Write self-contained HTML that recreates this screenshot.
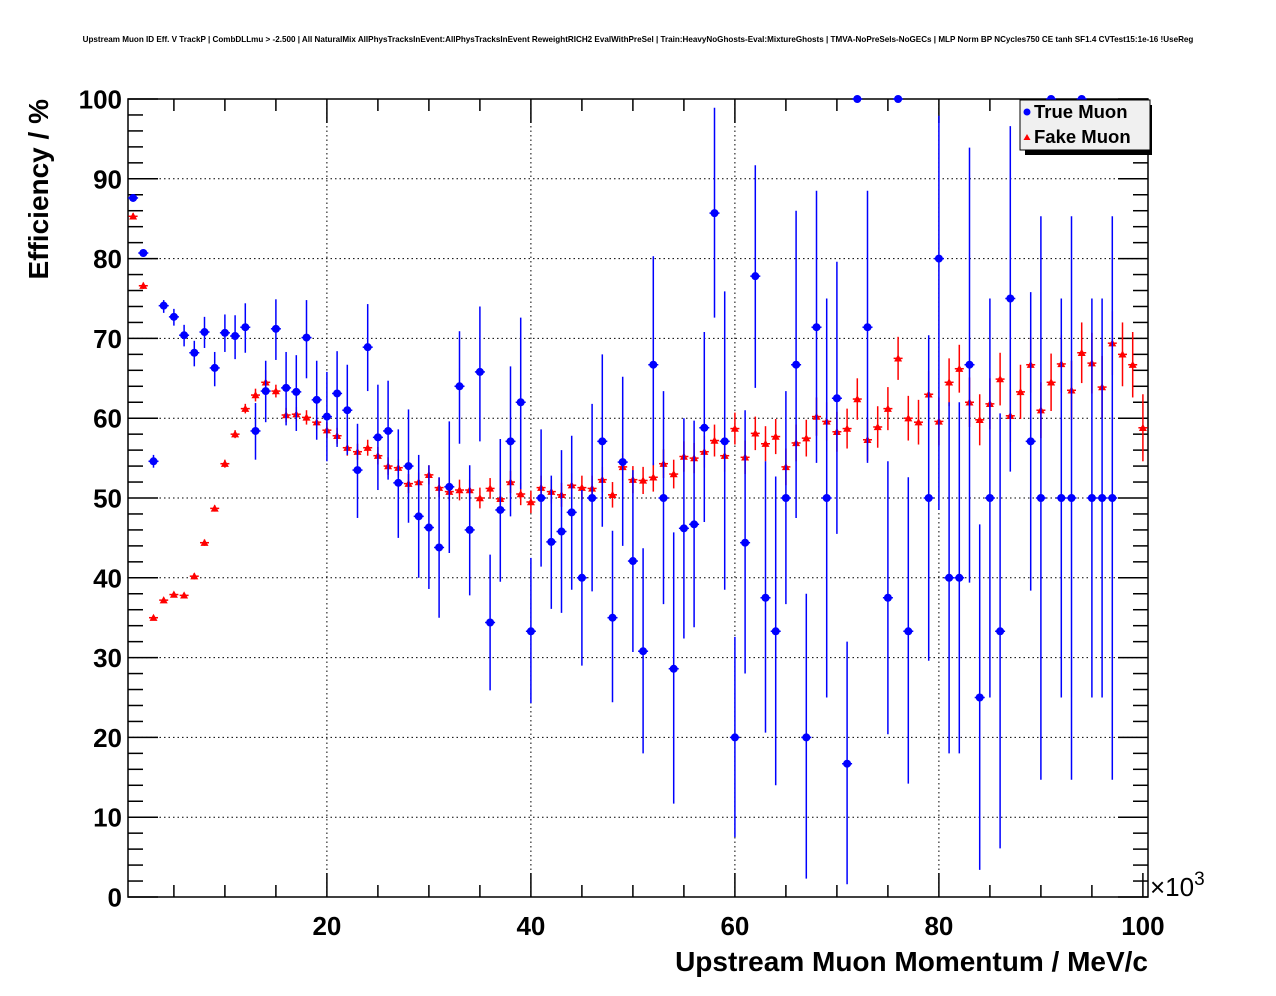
<!DOCTYPE html>
<html><head><meta charset="utf-8">
<style>
html,body{margin:0;padding:0;background:#fff;}
svg{display:block;font-family:"Liberation Sans",sans-serif;}
</style></head>
<body>
<svg id="chart" width="1276" height="996" viewBox="0 0 1276 996">
<text x="638" y="42" text-anchor="middle" font-size="8.1" font-weight="bold">Upstream Muon ID Eff. V TrackP | CombDLLmu &gt; -2.500 | All NaturalMix AllPhysTracksInEvent:AllPhysTracksInEvent ReweightRICH2 EvalWithPreSel | Train:HeavyNoGhosts-Eval:MixtureGhosts | TMVA-NoPreSels-NoGECs | MLP Norm BP NCycles750 CE tanh SF1.4 CVTest15:1e-16 !UseReg</text>
<g id="grid"></g>
<g id="axes"></g>
<g id="plot"></g>
<text x="0" y="0" transform="translate(48,99) rotate(-90)" text-anchor="end" font-size="28" font-weight="bold">Efficiency / %</text>
<text x="1148" y="971" text-anchor="end" font-size="28" font-weight="bold">Upstream Muon Momentum / MeV/c</text>
<text x="1150" y="896" font-size="26">×10<tspan dy="-11" font-size="19">3</tspan></text>
<g>
<rect x="1025" y="105" width="127" height="50" fill="#000"/>
<rect x="1020" y="100" width="130" height="50" fill="#f0f0f0" stroke="#000" stroke-width="1"/>
<circle cx="1027" cy="112" r="3.5" fill="#0000ff"/>
<text x="1034" y="118" font-size="18.5" font-weight="bold">True Muon</text>
<path d="M1023.5,140 L1027,134 L1030.5,140 Z" fill="#ff0000"/>
<text x="1034" y="143" font-size="18.5" font-weight="bold">Fake Muon</text>
</g>
</svg>
<script>
const xTicks = [20, 40, 60, 80, 100];
const yTicks = [0, 10, 20, 30, 40, 50, 60, 70, 80, 90, 100];
const binCenters = Array.from({length:100}, (_, i) => i + 1);
const fakeEff = [85.3,76.6,35,37.2,37.9,37.8,40.2,44.4,48.7,54.3,58,61.2,62.9,64.5,63.4,60.4,60.5,60.1,59.5,58.5,57.8,56.3,55.8,56.3,55.3,54,53.8,51.8,52,52.9,51.3,50.8,51,51,50,51.2,49.9,52,50.5,49.5,51.3,50.8,50.4,51.6,51.3,51.2,52.3,50.4,53.9,52.3,52.2,52.6,54.3,53,55.2,55,55.8,57.2,55.3,58.7,55.1,58.1,56.8,57.7,53.9,56.9,57.5,60.2,59.6,58.3,58.7,62.4,57.3,58.9,61.2,67.5,60,59.5,63,59.6,64.5,66.2,62,59.8,61.8,64.9,60.3,63.3,66.7,61,64.5,66.8,63.5,68.2,66.9,63.9,69.4,68,66.7,58.8];
const fakeErr = [0.4,0.4,0.3,0.3,0.3,0.3,0.4,0.4,0.4,0.5,0.5,0.6,0.8,1.5,0.8,0.9,0.9,0.9,0.9,1,1,1,1,1,1.1,1.1,1.1,1.2,1.2,1.2,1.2,1.2,1.3,1.3,1.3,1.3,1.4,1.4,1.4,1.4,1.5,1.5,1.5,1.5,1.5,1.6,1.6,1.6,1.7,1.7,1.7,1.8,1.8,1.8,1.9,1.9,2,2,2,2,2.1,2.1,2.2,2.2,2.3,2.3,2.3,2.4,2.4,2.5,2.5,2.6,2.6,2.6,2.7,2.7,2.8,2.8,2.9,3,3,3,3.1,3.2,3.2,3.3,3.3,3.4,3.5,3.5,3.6,3.6,3.7,3.8,3.8,3.9,4,4,4.1,4.2];
const trueEff = [87.6,80.7,54.6,74.1,72.7,70.4,68.2,70.8,66.3,70.7,70.3,71.4,58.4,63.4,71.2,63.8,63.3,70.1,62.3,60.2,63.1,61,53.5,68.9,57.6,58.4,51.9,54,47.7,46.3,43.8,51.4,64,46,65.8,34.4,48.5,57.1,62,33.3,50,44.5,45.8,48.2,40,50,57.1,35,54.5,42.1,30.8,66.7,50,28.6,46.2,46.7,58.8,85.7,57.1,20,44.4,77.8,37.5,33.3,50,66.7,20,71.4,50,62.5,16.7,100,71.4,null,37.5,100,33.3,null,50,80,40,40,66.7,25,50,33.3,75,null,57.1,50,100,50,50,100,50,50,50,null,null,null];
const trueUp = [87.9,81,55.4,74.8,73.7,71.7,69.7,72.7,68.3,73,72.9,74.4,61.9,67.2,74.9,68.3,67.9,74.8,67.2,65.8,68.4,66.7,59.3,74.3,64.2,64.7,58.6,61.1,55.4,54.1,52.6,59.6,70.9,54.1,74,42.9,57.4,66.5,72.6,42.5,58.6,52.8,56,57.8,51,61.8,68,45.9,65.2,53.5,43.7,80.3,63.4,45.7,60,59.7,70.8,98.9,75.9,32.6,61,91.7,54.6,52.7,63.4,86,38,88.5,75,79.6,32,100,88.5,null,54.6,100,52.6,null,70.4,97.9,62,62,93.9,46.7,75,60.6,96.6,null,75.8,85.3,100,75,85.3,100,75,75,85.3,null,null,null];
const trueDown = [87.3,80.4,53.8,73.2,71.6,69,66.5,68.8,64,68.3,67.4,68.2,54.8,59.5,67.3,59.1,58.4,65,57.3,54.6,56.4,55.4,47.5,63.4,51,52.3,45,46.9,40,38.6,35,43.1,56.8,37.8,57.1,25.9,39.5,47.7,51.1,24.3,41.4,36.1,35.6,38.5,29,38.3,46.4,24.4,44,30.7,18,54.1,36.7,11.7,32.4,33.8,47,72.6,38.5,7.5,28,63.8,20.6,14,36.7,47.5,2.3,54.4,25,45.5,1.6,100,54.4,null,20.4,100,14.2,null,29.6,48.5,18,18,39.4,3.4,25,6.1,53.3,null,38.4,14.7,100,25,14.7,100,25,25,14.7,null,null,null];

const NS = "http://www.w3.org/2000/svg";
const X0 = 128, X1 = 1148, Y0 = 897, Y1 = 99;
const xMin = 0.5, xMax = 100.5, yMin = 0, yMax = 100;
function sx(v){ return X0 + (v - xMin) / (xMax - xMin) * (X1 - X0); }
function sy(v){ return Y0 - (v - yMin) / (yMax - yMin) * (Y0 - Y1); }
function mk(tag, attrs, parent){
  const e = document.createElementNS(NS, tag);
  for (const k in attrs) e.setAttribute(k, attrs[k]);
  parent.appendChild(e);
  return e;
}
const grid = document.getElementById('grid');
const axes = document.getElementById('axes');
const plot = document.getElementById('plot');

xTicks.forEach(t => {
  if (t >= 100) return;
  const l = mk('line', {x1:sx(t), x2:sx(t), y1:Y0, y2:Y1, stroke:'#000', 'stroke-width':1, 'stroke-dasharray':'1.5,3'}, grid);
  
  
});
yTicks.forEach(t => {
  if (t <= 0 || t >= 100) return;
  const l = mk('line', {x1:X0, x2:X1, y1:sy(t), y2:sy(t), stroke:'#000', 'stroke-width':1, 'stroke-dasharray':'1.5,3'}, grid);
  
  
});

const fr = mk('rect', {x:X0, y:Y1, width:X1-X0, height:Y0-Y1, fill:'none', stroke:'#000', 'stroke-width':1.5}, axes);



for (let v = 5; v <= 100; v += 5) {
  const major = v % 20 === 0;
  const len = major ? 24 : 12;
  const x = sx(v);
  const a = mk('line', {x1:x, x2:x, y1:Y0, y2:Y0-len, stroke:'#000', 'stroke-width':1.5}, axes);
  
  
  const b = mk('line', {x1:x, x2:x, y1:Y1, y2:Y1+len, stroke:'#000', 'stroke-width':1.5}, axes);
  
  
}
xTicks.forEach(t => {
  const tx = mk('text', {x:sx(t), y:935, 'text-anchor':'middle', 'font-size':26, 'font-weight':'bold'}, axes);
  tx.textContent = t;
  
  
});
for (let v = 0; v <= 100; v += 2) {
  const major = v % 10 === 0;
  const len = major ? 30 : 15;
  const y = sy(v);
  const a = mk('line', {x1:X0, x2:X0+len, y1:y, y2:y, stroke:'#000', 'stroke-width':1.5}, axes);
  
  
  const b = mk('line', {x1:X1, x2:X1-len, y1:y, y2:y, stroke:'#000', 'stroke-width':1.5}, axes);
  
  
}
yTicks.forEach(t => {
  const tx = mk('text', {x:122, y:sy(t)+9.5, 'text-anchor':'end', 'font-size':26, 'font-weight':'bold'}, axes);
  tx.textContent = t;
  
  
});

binCenters.forEach((c, i) => {
  const v = fakeEff[i];
  if (v == null) return;
  const x = sx(c), y = sy(v), e = fakeErr[i];
  const g = mk('g', {}, plot);
  
  
  mk('line', {x1:x, x2:x, y1:sy(v+e), y2:sy(v-e), stroke:'#ff0000', 'stroke-width':1.5}, g);
  mk('line', {x1:x-4.5, x2:x+4.5, y1:y, y2:y, stroke:'#ff0000', 'stroke-width':1.5}, g);
  mk('path', {d:`M${x-4},${y+3.2} L${x},${y-4} L${x+4},${y+3.2} Z`, fill:'#ff0000'}, g);
});
binCenters.forEach((c, i) => {
  const v = trueEff[i];
  if (v == null) return;
  const x = sx(c), y = sy(v);
  const g = mk('g', {}, plot);
  
  
  if (trueUp[i] != null) mk('line', {x1:x, x2:x, y1:sy(trueUp[i]), y2:sy(trueDown[i]), stroke:'#0000ff', 'stroke-width':1.5}, g);
  mk('line', {x1:x-5, x2:x+5, y1:y, y2:y, stroke:'#0000ff', 'stroke-width':1.5}, g);
  mk('circle', {cx:x, cy:y, r:4, fill:'#0000ff'}, g);
});
</script>
</body></html>
